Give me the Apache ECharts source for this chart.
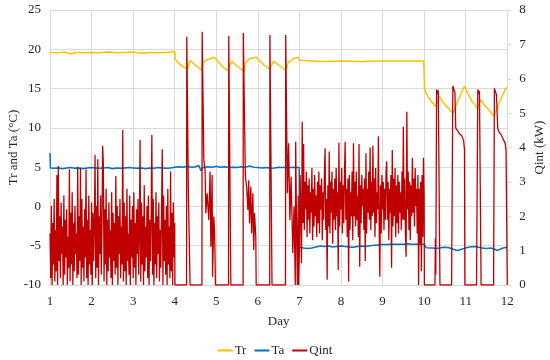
<!DOCTYPE html>
<html>
<head>
<meta charset="utf-8">
<script src="https://cdn.jsdelivr.net/npm/echarts@6/dist/echarts.min.js"></script>
<style>html,body{margin:0;padding:0;background:#fff}#c{width:550px;height:360px}</style>
</head>
<body>
<div id="c"></div>
<script>
// ---- Data ----
const dayTicks = [1,2,3,4,5,6,7,8,9,10,11,12];

const trDay = [1.0,1.2,1.35,1.52,1.6,1.8,2.0,2.2,2.4,2.6,2.8,3.0,3.2,3.4,3.6,3.8,3.95,4.0,
  4.01,4.1,4.2,4.31,4.37,4.45,4.55,4.65,4.67,4.75,4.85,4.95,5.05,5.15,5.27,5.37,5.45,5.55,5.67,
  5.70,5.80,5.96,6.05,6.15,6.28,6.38,6.5,6.67,6.73,6.85,6.97,7.0,7.02,7.5,8.0,8.5,9.0,9.5,9.99,
  10.01,10.1,10.2,10.29,10.36,10.45,10.55,10.69,10.8,10.9,10.97,11.05,11.15,11.28,11.37,11.45,11.55,11.68,
  11.8,11.9,11.97,12.0];
const trVal = [19.6,19.55,19.65,19.4,19.6,19.55,19.6,19.55,19.65,19.55,19.6,19.65,19.5,19.6,19.55,19.6,19.7,19.7,
  18.75,18.2,17.8,17.5,18.6,18.2,17.75,17.3,18.2,18.6,18.8,19.0,18.4,17.8,17.3,18.5,18.1,17.65,17.2,
  18.3,18.8,19.0,18.5,18.0,17.5,18.5,18.0,17.3,18.3,18.8,19.0,18.6,18.5,18.45,18.5,18.45,18.5,18.5,18.5,
  14.9,13.9,13.2,12.7,14.0,13.3,12.7,11.85,13.3,14.5,15.3,14.4,13.4,12.5,13.6,12.9,12.3,11.5,
  13.1,14.3,15.1,15.0];

const taDay = [1.0,1.01,1.1,1.2,1.3,1.4,1.5,1.6,1.7,1.8,1.9,2.0,2.1,2.2,2.3,2.4,2.5,2.6,2.7,2.8,2.9,3.0,
  3.1,3.2,3.3,3.4,3.5,3.6,3.7,3.8,3.9,4.0,4.1,4.2,4.3,4.4,4.5,4.58,4.63,4.68,4.8,4.9,5.0,5.1,5.2,5.3,5.4,5.5,
  5.6,5.7,5.8,5.9,6.0,6.1,6.2,6.3,6.4,6.5,6.6,6.7,6.8,6.9,6.995,7.0,7.1,7.2,7.3,7.4,7.5,7.6,7.7,7.8,7.9,8.0,
  8.1,8.2,8.3,8.4,8.5,8.6,8.7,8.8,8.9,9.0,9.1,9.2,9.3,9.4,9.5,9.6,9.7,9.8,9.9,10.0,10.05,10.2,10.3,10.4,10.5,
  10.6,10.7,10.8,10.9,11.0,11.1,11.2,11.3,11.4,11.5,11.6,11.7,11.75,11.8,11.9,12.0];
const taVal = [6.8,4.9,4.85,4.9,4.8,4.9,4.95,4.85,4.9,4.8,4.9,4.95,4.9,4.85,4.9,4.95,4.8,4.9,4.85,4.9,4.95,4.9,
  4.85,4.9,4.8,4.9,4.85,4.95,4.9,4.85,4.9,5.0,5.05,5.0,5.1,5.0,5.05,5.2,4.55,4.95,5.05,5.0,5.1,5.0,5.05,4.95,5.0,4.95,
  5.05,5.0,5.15,5.0,4.95,4.9,4.95,4.85,4.9,5.0,4.95,5.0,4.95,5.0,4.95,-5.2,-5.3,-5.35,-5.3,-5.15,-5.05,-5.1,-5.05,-5.15,-5.1,-5.05,
  -5.1,-5.15,-5.2,-5.1,-5.05,-5.1,-5.0,-4.95,-4.9,-4.85,-4.85,-4.8,-4.8,-4.8,-4.8,-4.75,-4.8,-4.8,-4.8,-4.8,-5.25,-5.3,-5.35,-5.25,-5.2,
  -5.25,-5.45,-5.6,-5.45,-5.3,-5.15,-5.1,-5.2,-5.3,-5.35,-5.3,-5.45,-5.6,-5.5,-5.3,-5.2];

// Qint (kW): noisy part days 1-4, sampled every 1/60 day
const qStep = 1/60;
const qNoise1Start = 1.0;
const qNoise1 = [1.5,0.2,2.3,0.0,1.8,0.6,2.5,0.1,1.6,0.4,3.2,0.0,3.46,0.7,2.0,0.2,2.4,0.9,1.7,0.0,
  2.6,0.3,1.9,0.8,2.2,0.0,1.4,0.5,3.37,0.1,2.1,0.6,2.7,0.0,1.8,0.4,2.3,0.9,1.5,0.2,
  3.44,0.3,2.0,0.7,3.4,0.0,2.5,0.5,1.7,0.1,2.2,0.8,3.36,0.2,1.9,0.0,2.6,0.6,1.6,0.3,
  2.4,0.0,2.1,0.7,1.8,3.78,0.2,2.3,0.5,3.66,0.0,2.0,0.9,2.6,0.3,1.7,4.05,3.5,0.1,2.2,
  0.6,2.8,0.0,1.9,0.4,2.4,0.8,1.6,0.2,2.7,0.0,2.1,0.7,1.8,0.3,3.17,0.5,2.3,0.0,2.0,
  0.9,2.5,0.2,1.7,0.6,4.51,0.1,2.4,0.4,2.0,0.0,2.8,0.7,1.5,0.3,2.6,0.0,1.9,0.8,2.3,
  0.2,2.7,0.5,1.8,0.0,2.2,0.9,2.5,0.3,1.6,4.22,0.1,2.4,0.6,2.0,0.0,2.9,0.4,1.7,0.8,
  2.3,0.2,2.6,0.0,1.9,0.7,2.1,4.36,0.3,2.5,0.0,1.8,0.6,2.7,0.2,2.0,0.9,2.4,0.1,1.6,
  0.5,2.2,3.95,0.0,2.6,0.7,1.9,0.3,2.3,0.0,2.8,0.6,1.7,0.2,3.3,0.4,2.1,0.0,2.4,0.8];
// pulses days 4-7
const qMidDay = [4.0,4.005,4.285,4.29,4.33,4.37,4.655,4.66,4.70,4.73,4.75,4.78,4.82,4.85,4.87,4.90,4.91,4.94,4.96,4.98,
  5.295,5.30,5.35,5.645,5.65,5.70,5.73,5.76,5.78,5.80,5.83,5.85,5.88,5.90,5.92,5.95,5.96,
  6.285,6.29,6.34,6.665,6.67,6.71,6.74,6.77,6.80,6.84,6.87,6.90,6.91,6.93,6.95,6.97,6.98];
const qMidVal = [1.8,0,0,7.22,2.57,0,0,7.37,3.64,3.35,2.09,2.67,1.89,3.3,1.11,3.2,0.24,1.99,1.5,0,
  0,7.24,0,0,7.34,3.15,2.86,2.18,3.05,1.79,2.86,1.5,2.67,1.02,2.09,1.4,0,
  0,7.27,0,0,7.27,2.67,4.12,1.89,3.15,0.93,2.28,0.0,4.17,1.7,0,2.6,0];
// noisy part days 7-10, sampled every 1/60 day
const qNoise2Start = 7.0;
const qNoise2 = [1.1,3.2,2.0,0.64,4.75,1.8,4.1,1.6,3.0,2.2,3.3,1.4,2.9,1.9,3.1,1.5,2.7,2.1,3.4,1.3,
  2.8,1.7,3.2,2.0,2.6,1.4,3.0,1.8,3.3,1.5,2.9,2.2,3.1,1.3,2.7,1.9,3.2,3.98,1.6,2.5,
  0.15,2.9,1.7,3.88,1.5,3.0,2.1,3.3,1.2,2.8,1.9,3.1,1.6,3.4,2.0,2.7,0.44,4.14,1.7,3.0,
  2.2,3.4,1.5,2.9,1.8,3.2,4.17,1.9,2.8,1.4,3.1,0.1,3.2,1.6,2.7,2.0,3.3,1.3,4.12,2.0,
  3.0,1.7,3.3,1.9,2.6,1.4,4.1,0.53,2.9,1.8,3.2,2.3,2.8,1.6,3.1,0.7,3.83,1.5,2.8,2.1,
  3.3,1.9,4.0,1.6,3.0,2.0,4.05,2.1,3.1,1.4,3.4,1.8,2.7,2.2,4.33,1.8,0.24,2.9,1.5,3.2,
  2.2,3.0,1.6,2.8,1.9,3.3,3.6,1.9,3.0,1.3,2.8,2.1,3.2,0.5,3.93,1.7,3.1,2.0,3.4,1.4,
  2.9,1.8,3.2,1.5,3.0,2.1,2.7,1.6,3.3,1.9,4.6,1.9,3.1,1.5,0.82,5.04,2.2,3.3,1.6,3.0,
  1.3,2.9,2.0,3.7,2.1,3.1,1.7,3.4,2.3,2.8,1.5,3.2,0.0,2.8,1.2,3.0,0.4,3.2,1.4,3.7];
// pulses days 10-12
const qEndDay = [10.0,10.005,10.26,10.27,10.28,10.30,10.32,10.34,10.38,10.66,10.69,10.74,10.76,10.80,10.85,10.90,10.95,10.97,10.98,
  11.26,11.29,11.31,11.33,11.37,11.67,11.69,11.74,11.77,11.80,11.85,11.88,11.95,11.97,12.0];
const qEndVal = [2.6,0,0,1.35,0.3,5.69,5.55,5.66,0,0,5.79,5.6,4.56,4.5,4.4,4.35,4.2,3.93,0,
  0,5.69,5.55,5.65,0,0,5.72,5.53,4.56,4.45,4.38,4.3,4.12,3.9,0];

// ---- Build series data ----
const pairs = (xs, ys) => xs.map((x, i) => [x, ys[i]]);
const trData = pairs(trDay, trVal);
const taData = pairs(taDay, taVal);
const qData = []
  .concat(qNoise1.map((v, i) => [qNoise1Start + i * qStep, v]))
  .concat(pairs(qMidDay, qMidVal))
  .concat(qNoise2.map((v, i) => [qNoise2Start + i * qStep, v]))
  .concat(pairs(qEndDay, qEndVal));

const FONT = '"Liberation Serif", "Times New Roman", serif';
const TXT = '#262626';
const GRID = '#d9d9d9';

const chart = echarts.init(document.getElementById('c'), null, {renderer: 'canvas'});
chart.setOption({
  animation: false,
  textStyle: {fontFamily: FONT},
  grid: {left: 50, right: 42.7, top: 10, bottom: 75, containLabel: false, outerBoundsMode: 'none'},
  legend: {
    top: 339, left: 'center',
    icon: 'rect', itemWidth: 15, itemHeight: 2, itemGap: 8,
    textStyle: {fontFamily: FONT, fontSize: 13, color: TXT, padding: [0,0,0,-3]},
    data: ['Tr', 'Ta', 'Qint']
  },
  xAxis: {
    type: 'value', min: dayTicks[0], max: dayTicks[dayTicks.length - 1], interval: 1,
    name: 'Day', nameLocation: 'middle', nameGap: 30, nameMoveOverlap: false,
    nameTextStyle: {fontFamily: FONT, fontSize: 13, color: TXT},
    axisLine: {show: true, lineStyle: {color: GRID}},
    axisTick: {show: false},
    axisLabel: {fontFamily: FONT, fontSize: 13, color: TXT, margin: 10},
    splitLine: {show: true, lineStyle: {color: GRID, width: 1}}
  },
  yAxis: [{
    type: 'value', min: -10, max: 25, interval: 5,
    name: 'Tr and Ta (°C)', nameLocation: 'middle', nameGap: 30, nameRotate: 90, nameMoveOverlap: false,
    nameTextStyle: {fontFamily: FONT, fontSize: 13, color: TXT},
    axisLine: {show: false}, axisTick: {show: false},
    axisLabel: {fontFamily: FONT, fontSize: 13, color: TXT, margin: 9},
    splitLine: {show: true, lineStyle: {color: GRID, width: 1}}
  }, {
    type: 'value', min: 0, max: 8, interval: 1, position: 'right',
    name: 'Qint (kW)', nameLocation: 'middle', nameGap: 26, nameRotate: 90, nameMoveOverlap: false,
    nameTextStyle: {fontFamily: FONT, fontSize: 13, color: TXT},
    axisLine: {show: true, lineStyle: {color: GRID}},
    axisTick: {show: true, length: 4, lineStyle: {color: GRID}},
    axisLabel: {fontFamily: FONT, fontSize: 13, color: TXT, margin: 12},
    splitLine: {show: false}
  }],
  series: [{
    name: 'Tr', type: 'line', yAxisIndex: 0, data: trData,
    showSymbol: false, symbol: 'none', color: '#FFC000',
    lineStyle: {width: 1.5, color: '#FFC000'}
  }, {
    name: 'Ta', type: 'line', yAxisIndex: 0, data: taData,
    showSymbol: false, symbol: 'none', color: '#0070C0',
    lineStyle: {width: 1.5, color: '#0070C0'}
  }, {
    name: 'Qint', type: 'line', yAxisIndex: 1, data: qData,
    showSymbol: false, symbol: 'none', color: '#C00000',
    lineStyle: {width: 1.3, color: '#C00000'}
  }]
});
</script>
</body>
</html>
